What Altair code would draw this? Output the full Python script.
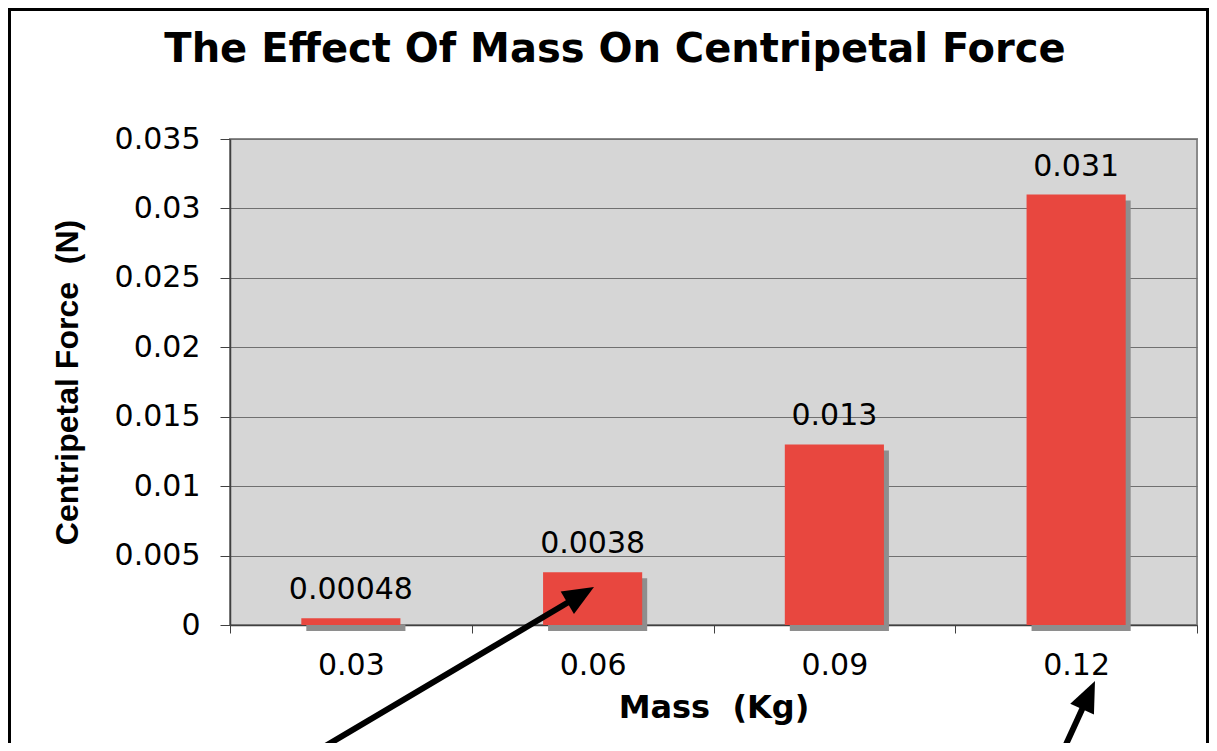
import math
import altair as alt
import pandas as pd

# ---- data ----
masses = ["0.03", "0.06", "0.09", "0.12"]
forces = [0.00048, 0.0038, 0.013, 0.031]
value_labels = ["0.00048", "0.0038", "0.013", "0.031"]
y_ticks = [0, 0.005, 0.01, 0.015, 0.02, 0.025, 0.03, 0.035]
chart_title = "The Effect Of Mass On Centripetal Force"

# arrow annotations (pixel positions relative to the plot area): start and tip
arrow_start_x = [87, 833]
arrow_start_y = [612, 612]
arrow_tip_x = [364, 865]
arrow_tip_y = [448, 542]

df = pd.DataFrame({"mass": masses, "force": forces, "label": value_labels})

W, H = 967, 486
PAD = {"left": 222, "top": 131, "right": 12, "bottom": 118}
LABEL_SIZE = 30

x_enc = alt.X(
    "mass:N",
    sort=masses,
    scale=alt.Scale(paddingInner=0, paddingOuter=0),
    axis=alt.Axis(
        labelAngle=0,
        labelFont="DejaVu Sans",
        labelFontSize=LABEL_SIZE,
        labelColor="black",
        labelPadding=17,
        tickBand="extent",
        tickSize=8,
        tickColor="#404040",
        domainColor="#404040",
        domainWidth=1.5,
        title="Mass\u00a0\u00a0(Kg)",
        titleFont="DejaVu Sans",
        titleFontSize=32,
        titleFontWeight="bold",
        titleColor="black",
        titleBaseline="alphabetic",
        titleY=92,
    ),
)
y_enc = alt.Y(
    "force:Q",
    scale=alt.Scale(domain=[0, 0.035], nice=False),
    axis=alt.Axis(
        values=y_ticks,
        format="~g",
        labelFont="DejaVu Sans",
        labelFontSize=LABEL_SIZE,
        labelColor="black",
        labelPadding=20,
        tickSize=10,
        tickColor="#404040",
        domainColor="#404040",
        domainWidth=1.5,
        grid=True,
        gridColor="#707070",
        gridWidth=1,
        title="Centripetal Force\u00a0\u00a0(N)",
        titleFont="Liberation Sans",
        titleFontSize=32,
        titleFontWeight="bold",
        titleColor="black",
        titleAngle=270,
        titleAlign="center",
        titleBaseline="alphabetic",
        titleX=-153,
        titleY=243,
    ),
)

base = alt.Chart(df)

shadow = base.mark_bar(
    color="#8e8e8e", width=alt.RelativeBandSize(0.41), xOffset=5, yOffset=6, y2Offset=0
).encode(x=x_enc, y=y_enc)

bars = base.mark_bar(color="#E8473F", width=alt.RelativeBandSize(0.41)).encode(
    x=x_enc, y=y_enc
)

texts = base.mark_text(
    dy=-19, baseline="alphabetic", font="DejaVu Sans", fontSize=LABEL_SIZE, color="black"
).encode(x=alt.X("mass:N", sort=masses), y=alt.Y("force:Q"), text="label:N")

layers = [shadow, bars, texts]

one = pd.DataFrame({"a": [0]})
HEAD_LEN = 31
for sx, sy, tx, ty in zip(arrow_start_x, arrow_start_y, arrow_tip_x, arrow_tip_y):
    dx, dy = tx - sx, ty - sy
    L = math.hypot(dx, dy)
    ux, uy = dx / L, dy / L
    ex, ey = tx - ux * (HEAD_LEN - 6), ty - uy * (HEAD_LEN - 6)
    ang = math.degrees(math.atan2(dx, -dy))
    line = alt.Chart(one).mark_rule(color="black", strokeWidth=6).encode(
        x=alt.value(sx), y=alt.value(sy), x2=alt.value(ex), y2=alt.value(ey)
    )
    head = alt.Chart(one).mark_point(
        shape="M0,0L0.42,1L-0.42,1Z",
        size=(2 * HEAD_LEN) ** 2,
        filled=True,
        color="black",
        opacity=1,
        strokeWidth=0,
        angle=ang,
    ).encode(x=alt.value(tx), y=alt.value(ty))
    layers += [line, head]

title_mark = alt.Chart(one).mark_text(
    text=chart_title,
    font="DejaVu Sans",
    fontSize=40,
    fontWeight="bold",
    color="black",
    align="center",
    baseline="alphabetic",
).encode(x=alt.value(385), y=alt.value(-77))
layers.append(title_mark)

border = alt.Chart(one).mark_rect(
    filled=False, stroke="black", strokeWidth=3, fill=None
).encode(
    x=alt.value(-220.5), x2=alt.value(977.5), y=alt.value(-129.5), y2=alt.value(700)
)
layers.append(border)

chart = (
    alt.layer(*layers)
    .properties(
        width=W,
        height=H,
        padding=PAD,
        autosize=alt.AutoSizeParams(type="none"),
        background="white",
    )
    .configure_view(fill="#D6D6D6", stroke="#8a8a8a", strokeWidth=2)
)

chart.save("out.html", embed_options={"renderer": "svg", "actions": False})
